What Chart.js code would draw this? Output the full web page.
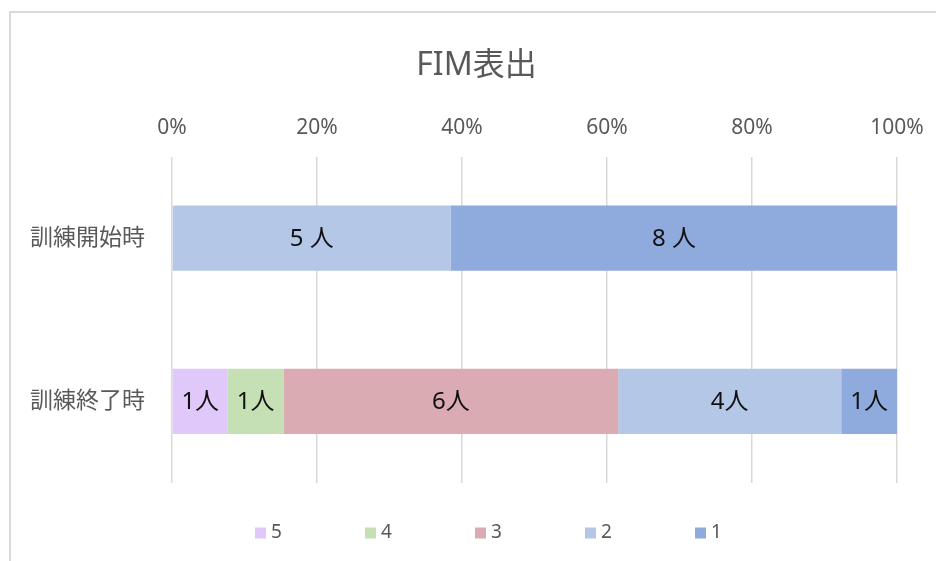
<!DOCTYPE html>
<html lang="ja">
<head>
<meta charset="utf-8">
<title>FIM表出</title>
<script src="https://cdn.jsdelivr.net/npm/chart.js@4.4.1/dist/chart.umd.min.js"></script>
<style>
    html, body { margin: 0; padding: 0; background: #fff; overflow: hidden; }
    #frame {
        position: absolute; left: 9px; top: 11px; width: 1000px; height: 600px;
        border-left: 2px solid #d9d9d9; border-top: 2px solid #d9d9d9;
    }
    #wrap { position: absolute; left: 0; top: 0; width: 936px; height: 561px; }
</style>
</head>
<body>
<div id="frame"></div>
<div id="wrap"><canvas id="fim" width="936" height="561"></canvas></div>
<script>
// 人数 (FIM level ごと)
const categories = ['訓練開始時', '訓練終了時'];
const seriesNames = ['5', '4', '3', '2', '1'];
const level5 = [0, 1];
const level4 = [0, 1];
const level3 = [0, 6];
const level2 = [5, 4];
const level1 = [8, 1];
const unitText = [' 人', '人'];
const xTicks = [0, 20, 40, 60, 80, 100];
const colors = ['#e0c8fa', '#c5e0b4', '#daabb2', '#b4c7e7', '#8faadc'];

const allSeries = [level5, level4, level3, level2, level1];
const totals = categories.map((c, i) => allSeries.reduce((s, arr) => s + arr[i], 0));

const FONT = "'Noto Sans', 'Noto Sans CJK JP', sans-serif";
const GRAY = '#595959';

// 棒の中に「n人」を描く
const barLabels = {
    id: 'barLabels',
    afterDatasetsDraw(chart) {
        const ctx = chart.ctx;
        ctx.save();
        ctx.font = "24px " + FONT;
        ctx.fillStyle = '#111';
        ctx.textAlign = 'center';
        ctx.textBaseline = 'middle';
        chart.data.datasets.forEach((ds, di) => {
            const meta = chart.getDatasetMeta(di);
            meta.data.forEach((bar, i) => {
                const n = ds.counts[i];
                if (!n) return;
                const p = bar.getCenterPoint();
                ctx.fillText(n + unitText[i], p.x, p.y + 1);
            });
        });
        ctx.restore();
    }
};

// 凡例 (下)
const bottomLegend = {
    id: 'bottomLegend',
    afterDraw(chart, args, opts) {
        const ctx = chart.ctx;
        ctx.save();
        ctx.font = "19px " + FONT;
        ctx.textBaseline = 'middle';
        chart.data.datasets.forEach((ds, i) => {
            const x = opts.x0 + i * opts.step;
            ctx.fillStyle = ds.backgroundColor;
            ctx.fillRect(x, opts.y - opts.box / 2, opts.box, opts.box);
            ctx.fillStyle = GRAY;
            ctx.fillText(ds.label, x + opts.box + 5, opts.y);
        });
        ctx.restore();
    }
};

// タイトルを少し右へ (Excel の配置に合わせる)
const titleShift = {
    id: 'titleShift',
    afterLayout(chart, args, opts) {
        if (chart.titleBlock) chart.titleBlock.left += opts.dx;
    }
};

const ctx = document.getElementById('fim').getContext('2d');
new Chart(ctx, {
    type: 'bar',
    data: {
        labels: categories,
        datasets: seriesNames.map((name, k) => ({
            label: name,
            counts: allSeries[k],
            data: allSeries[k].map((v, i) => v / totals[i]),
            backgroundColor: colors[k],
            borderWidth: 0,
            barPercentage: 1,
            categoryPercentage: 0.4
        }))
    },
    options: {
        indexAxis: 'y',
        responsive: false,
        animation: false,
        layout: { padding: { left: 0, right: 39, top: 0, bottom: 78 } },
        plugins: {
            legend: { display: false },
            tooltip: { enabled: false },
            title: {
                display: true,
                text: 'FIM表出',
                color: GRAY,
                font: { family: FONT, size: 32, weight: 'normal' },
                padding: { top: 47, bottom: 14 }
            },
            titleShift: { dx: 56 },
            bottomLegend: { x0: 255, step: 110, y: 533, box: 11 }
        },
        scales: {
            x: {
                position: 'top',
                stacked: true,
                min: 0,
                max: 1,
                afterBuildTicks: (scale) => {
                    scale.ticks = xTicks.map(v => ({ value: v / 100 }));
                },
                afterFit: (scale) => { scale.paddingRight = 0; },
                ticks: {
                    callback: (v) => Math.round(v * 100) + '%',
                    color: GRAY,
                    font: { family: FONT, size: 21 },
                    padding: 16
                },
                grid: { color: '#d9d9d9', lineWidth: 1.5, drawTicks: false },
                border: { display: false }
            },
            y: {
                stacked: true,
                afterFit: (scale) => { scale.width = 172; },
                ticks: {
                    color: GRAY,
                    font: { family: FONT, size: 23 },
                    padding: 27
                },
                grid: { display: false, drawTicks: false },
                border: { display: false }
            }
        }
    },
    plugins: [barLabels, bottomLegend, titleShift]
});
</script>
</body>
</html>
